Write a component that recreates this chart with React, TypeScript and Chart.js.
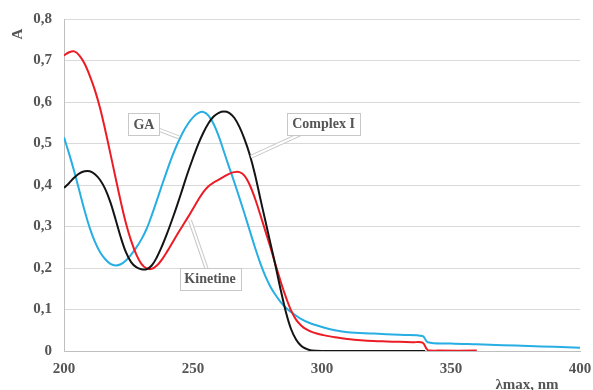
import React, { useEffect, useRef } from "react";
import { Chart, registerables } from "chart.js";

Chart.register(...registerables);

// ---- Data ----
const kinetineX = [200, 202, 204, 206, 208, 210, 212, 214, 216, 218, 220, 222, 224, 226, 228, 230, 232, 234, 236, 238, 240, 242, 244, 246, 248, 250, 252, 254, 256, 258, 260, 262, 264, 266, 268, 270, 272, 274, 276, 278, 280, 282, 284, 286, 288, 290, 292, 294, 296, 298, 300, 305, 310, 315, 320, 325, 330, 335, 339, 341, 345, 360];
const kinetineY = [0.712, 0.72, 0.722, 0.712, 0.692, 0.663, 0.628, 0.585, 0.532, 0.475, 0.417, 0.36, 0.308, 0.266, 0.233, 0.21, 0.199, 0.198, 0.206, 0.221, 0.24, 0.261, 0.282, 0.302, 0.322, 0.343, 0.364, 0.383, 0.397, 0.406, 0.413, 0.42, 0.427, 0.431, 0.431, 0.422, 0.4, 0.368, 0.33, 0.29, 0.25, 0.208, 0.167, 0.13, 0.098, 0.075, 0.061, 0.052, 0.046, 0.042, 0.039, 0.033, 0.029, 0.026, 0.024, 0.023, 0.022, 0.021, 0.02, 0.002, 0.001, 0.001];

const gaX = [200, 202, 204, 206, 208, 210, 212, 214, 216, 218, 220, 222, 224, 226, 228, 230, 232, 234, 236, 238, 240, 242, 244, 246, 248, 250, 252, 254, 256, 258, 260, 262, 264, 266, 268, 270, 272, 274, 276, 278, 280, 282, 284, 286, 288, 290, 292, 295, 300, 305, 310, 320, 330, 339, 341, 350, 360, 370, 380, 390, 400];
const gaY = [0.515, 0.475, 0.432, 0.385, 0.338, 0.296, 0.263, 0.238, 0.221, 0.21, 0.206, 0.209, 0.218, 0.232, 0.249, 0.269, 0.294, 0.327, 0.363, 0.4, 0.436, 0.47, 0.5, 0.526, 0.547, 0.563, 0.573, 0.576, 0.567, 0.547, 0.517, 0.48, 0.443, 0.407, 0.369, 0.33, 0.29, 0.25, 0.213, 0.181, 0.155, 0.135, 0.118, 0.104, 0.094, 0.085, 0.077, 0.068, 0.058, 0.05, 0.045, 0.042, 0.039, 0.036, 0.021, 0.018, 0.016, 0.014, 0.012, 0.01, 0.008];

const complexX = [200, 202, 204, 206, 208, 210, 212, 214, 216, 218, 220, 222, 224, 226, 228, 230, 232, 234, 236, 238, 240, 242, 244, 246, 248, 250, 252, 254, 256, 258, 260, 262, 264, 266, 268, 270, 272, 274, 276, 278, 280, 282, 284, 286, 288, 290, 292, 294, 296, 300, 340];
const complexY = [0.393, 0.405, 0.418, 0.428, 0.433, 0.433, 0.426, 0.412, 0.39, 0.358, 0.317, 0.274, 0.238, 0.214, 0.202, 0.197, 0.197, 0.206, 0.226, 0.253, 0.284, 0.318, 0.354, 0.392, 0.43, 0.465, 0.498, 0.526, 0.549, 0.565, 0.574, 0.577, 0.574, 0.562, 0.54, 0.51, 0.473, 0.426, 0.37, 0.315, 0.26, 0.205, 0.147, 0.094, 0.053, 0.027, 0.012, 0.005, 0.001, 0, 0];

const xTickValues = [200, 250, 300, 350, 400];
const xTickLabels = ["200", "250", "300", "350", "400"];
const yTickValues = [0, 0.1, 0.2, 0.3, 0.4, 0.5, 0.6, 0.7, 0.8];
const yTickLabels = ["0", "0,1", "0,2", "0,3", "0,4", "0,5", "0,6", "0,7", "0,8"];

const calloutLabels = ["GA", "Complex I", "Kinetine"];
const calloutAnchorX = [244.5, 272.5, 248.8];
const calloutAnchorY = [0.515, 0.468, 0.315];
const calloutBoxX = [231, 300.6, 256.6];
const calloutBoxY = [0.547, 0.548, 0.174];

const xTitle = "λmax, nm";
const yTitle = "A";

const FONT = "'Liberation Serif', 'Times New Roman', serif";
const TEXT_COLOR = "#555555";

function toPoints(xs: number[], ys: number[]) {
  return xs.map((x, i) => ({ x, y: ys[i] }));
}

const calloutPlugin = {
  id: "callouts",
  afterDatasetsDraw(chart: any) {
    const ctx = chart.ctx;
    const xs = chart.scales.x;
    const ys = chart.scales.y;
    ctx.save();
    ctx.font = `bold 14px ${FONT}`;
    for (let i = 0; i < calloutLabels.length; i++) {
      const ax = xs.getPixelForValue(calloutAnchorX[i]);
      const ay = ys.getPixelForValue(calloutAnchorY[i]);
      const bx = xs.getPixelForValue(calloutBoxX[i]);
      const by = ys.getPixelForValue(calloutBoxY[i]);
      ctx.lineCap = "butt";
      ctx.strokeStyle = "#c8c8c8";
      ctx.lineWidth = 4;
      ctx.beginPath();
      ctx.moveTo(bx, by);
      ctx.lineTo(ax, ay);
      ctx.stroke();
      ctx.strokeStyle = "#ffffff";
      ctx.lineWidth = 2;
      ctx.beginPath();
      ctx.moveTo(bx, by);
      ctx.lineTo(ax, ay);
      ctx.stroke();
      const tw = ctx.measureText(calloutLabels[i]).width;
      const w = Math.round(tw + 10);
      const h = 22;
      const left = Math.round(bx - w / 2) + 0.5;
      const top = Math.round(by - h / 2) + 0.5;
      ctx.fillStyle = "#ffffff";
      ctx.fillRect(left, top, w, h);
      ctx.strokeStyle = "#c8c8c8";
      ctx.lineWidth = 1;
      ctx.strokeRect(left, top, w, h);
      ctx.fillStyle = TEXT_COLOR;
      ctx.textAlign = "center";
      ctx.textBaseline = "middle";
      ctx.fillText(calloutLabels[i], bx, by + 1);
    }
    ctx.font = `bold 15px ${FONT}`;
    ctx.fillStyle = TEXT_COLOR;
    ctx.textAlign = "center";
    ctx.textBaseline = "alphabetic";
    ctx.fillText(xTitle, chart.chartArea.right - 53, chart.height - 1);
    ctx.save();
    ctx.translate(18, chart.chartArea.top + 15);
    ctx.rotate(-Math.PI / 2);
    ctx.textBaseline = "middle";
    ctx.fillText(yTitle, 0, 0);
    ctx.restore();
    ctx.restore();
  },
};

export default function App() {
  const canvasRef = useRef<HTMLCanvasElement | null>(null);

  useEffect(() => {
    document.body.style.margin = "0";
    const canvas = canvasRef.current;
    if (!canvas) return;
    const lineOpts = {
      borderWidth: 2,
      pointRadius: 0,
      fill: false,
      tension: 0.35,
    };
    const chart = new Chart(canvas, {
      type: "line",
      data: {
        datasets: [
          { label: "Complex I", data: toPoints(complexX, complexY), borderColor: "#141414", ...lineOpts },
          { label: "Kinetine", data: toPoints(kinetineX, kinetineY), borderColor: "#ec1c24", ...lineOpts },
          { label: "GA", data: toPoints(gaX, gaY), borderColor: "#27aee3", ...lineOpts },
        ],
      },
      options: {
        animation: false,
        responsive: false,
        maintainAspectRatio: false,
        layout: { padding: { top: 19, right: 13, left: 0, bottom: 0 } },
        plugins: { legend: { display: false }, tooltip: { enabled: false } },
        scales: {
          x: {
            type: "linear",
            min: 200,
            max: 400,
            afterBuildTicks: (scale: any) => {
              scale.ticks = xTickValues.map((v) => ({ value: v }));
            },
            afterFit: (scale: any) => {
              scale.height = 39;
              scale.paddingLeft = 0;
              scale.paddingRight = 0;
            },
            ticks: {
              padding: 9,
              color: TEXT_COLOR,
              font: { family: FONT, size: 15, weight: "bold" },
              maxRotation: 0,
              callback: (v: any) => {
                const i = xTickValues.indexOf(Number(v));
                return i >= 0 ? xTickLabels[i] : "";
              },
            },
            grid: { display: false, drawTicks: false },
            border: { display: true, color: "#bfbfbf", width: 1 },
          },
          y: {
            type: "linear",
            min: 0,
            max: 0.8,
            afterBuildTicks: (scale: any) => {
              scale.ticks = yTickValues.map((v) => ({ value: v }));
            },
            afterFit: (scale: any) => {
              scale.width = 64;
              scale.paddingTop = 0;
              scale.paddingBottom = 0;
            },
            ticks: {
              padding: 12,
              color: TEXT_COLOR,
              font: { family: FONT, size: 15, weight: "bold" },
              callback: (v: any) => {
                const i = yTickValues.findIndex((t) => Math.abs(t - Number(v)) < 1e-9);
                return i >= 0 ? yTickLabels[i] : "";
              },
            },
            grid: { color: "#d9d9d9", lineWidth: 1, drawTicks: false },
            border: { display: true, color: "#bfbfbf", width: 1 },
          },
        },
      },
      plugins: [calloutPlugin],
    } as any);
    return () => chart.destroy();
  }, []);

  return (
    <div style={{ position: "absolute", left: 0, top: 0, width: 593, height: 390, background: "#fff" }}>
      <canvas ref={canvasRef} width={593} height={390} style={{ width: 593, height: 390, display: "block" }} />
    </div>
  );
}
